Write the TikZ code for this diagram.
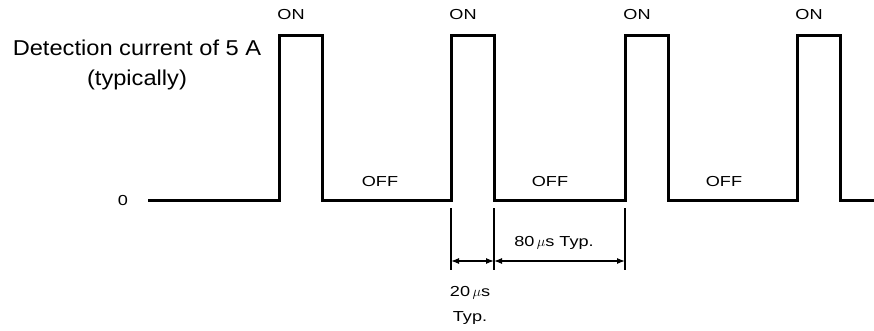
\documentclass[tikz,border=0pt]{standalone}
\usepackage{fontspec}
\setmainfont{Liberation Sans}
\newfontfamily\tagfont[FakeStretch=1.25]{Liberation Sans}
\newfontfamily\headfont[FakeStretch=1.1]{Liberation Sans}
\usetikzlibrary{arrows.meta}

\begin{document}
\begin{tikzpicture}[x=1pt, y=-1pt,
    wave/.style={line width=3pt, line join=miter},
    dimline/.style={line width=1.3pt},
    dimarrow/.style={line width=1.2pt, {Latex[length=8pt,width=6pt]}-{Latex[length=8pt,width=6pt]}},
    tag/.style={font=\tagfont\fontsize{14.5}{16}\selectfont, inner sep=0pt}]
    \useasboundingbox (0,0) rectangle (874,330);
    % waveform
    \coordinate (s) at (148,200);
    \coordinate (e) at (874,200);
    \draw[wave] (s) -- (279,200) -- (279,35) -- (322,35) -- (322,200)
        -- (451,200) -- (451,35) -- (494,35) -- (494,200)
        -- (625,200) -- (625,35) -- (668,35) -- (668,200)
        -- (797,200) -- (797,35) -- (840,35) -- (840,200) -- (e);
    % labels
    \node[font=\headfont\fontsize{21.5}{30}\selectfont, align=center] (title) at (137,65)
        {Detection current of 5 A\\(typically)};
    \node[tag] (zero) at (123,201) {0};
    \node[tag] (on1) at (291,15) {ON};
    \node[tag] (on2) at (463,15) {ON};
    \node[tag] (on3) at (637,15) {ON};
    \node[tag] (on4) at (809,15) {ON};
    \node[tag] (off1) at (380,182) {OFF};
    \node[tag] (off2) at (550,182) {OFF};
    \node[tag] (off3) at (724,182) {OFF};
    % dimensions
    \coordinate (a1) at (451,208);
    \coordinate (a2) at (451,270);
    \coordinate (b1) at (494,208);
    \coordinate (b2) at (494,270);
    \coordinate (c1) at (625,208);
    \coordinate (c2) at (625,270);
    \draw[dimline] (a1) -- (a2);
    \draw[dimline] (b1) -- (b2);
    \draw[dimline] (c1) -- (c2);
    \draw[dimarrow] (451,261) -- (494,261);
    \draw[dimarrow] (494,261) -- (625,261);
    \node[tag] (long) at (554,243) {80\,$\mu$s Typ.};
    \node[tag] (short) at (470,293) {20\,$\mu$s};
    \node[tag] (shorttyp) at (470,318) {Typ.};
\end{tikzpicture}
\end{document}
